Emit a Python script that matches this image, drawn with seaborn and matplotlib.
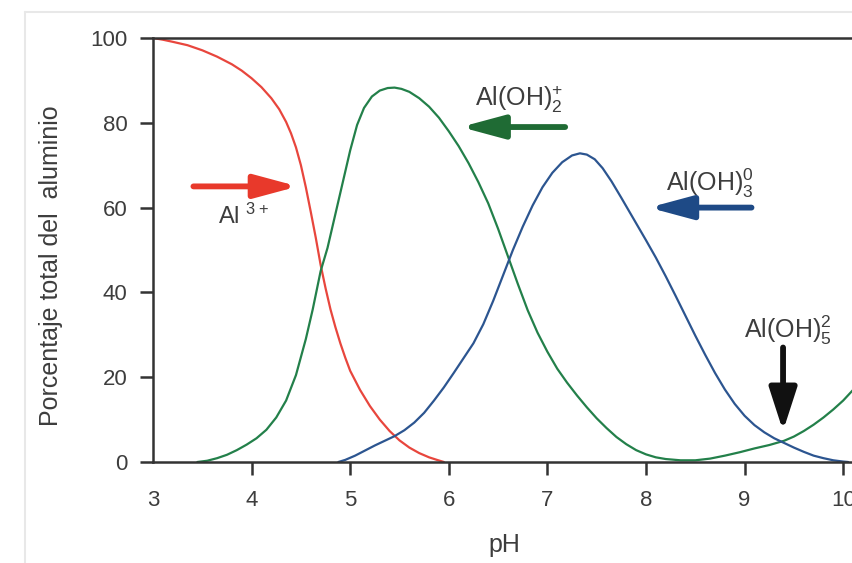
import matplotlib
matplotlib.use("Agg")
import matplotlib.pyplot as plt
import seaborn as sns
import pandas as pd
from matplotlib.lines import Line2D

# curves (pH, % of total aluminium)
ph_al3 = [3.0, 3.1, 3.2, 3.35, 3.5, 3.65, 3.8, 3.9, 4.0, 4.1, 4.2, 4.28, 4.35, 4.4, 4.45,
          4.5, 4.55, 4.6, 4.65, 4.7, 4.75, 4.8, 4.85, 4.9, 4.95, 5.0, 5.1, 5.2, 5.3, 5.4,
          5.5, 5.6, 5.7, 5.8, 5.88, 5.95]
pct_al3 = [100, 99.6, 99.1, 98.3, 97.1, 95.6, 93.8, 92.3, 90.5, 88.4, 85.8, 83.2, 80.2, 77.5, 74.2,
           70, 64.8, 59, 53, 46.5, 41, 36, 31.8, 28, 24.6, 21.5, 17, 13.2, 10, 7.3,
           5.1, 3.4, 2.1, 1.1, 0.5, 0]

ph_oh2 = [3.45, 3.55, 3.65, 3.75, 3.85, 3.95, 4.05, 4.15, 4.25, 4.35, 4.45, 4.55, 4.62, 4.7,
          4.77, 4.85, 4.93, 5.0, 5.07, 5.14, 5.22, 5.3, 5.38, 5.45, 5.52, 5.6, 5.7, 5.8,
          5.9, 6.0, 6.1, 6.2, 6.3, 6.4, 6.5, 6.6, 6.7, 6.8, 6.9, 7.0, 7.1, 7.2, 7.3, 7.4,
          7.5, 7.6, 7.7, 7.8, 7.9, 8.0, 8.1, 8.2, 8.35, 8.5, 8.65, 8.8, 8.95, 9.1, 9.25,
          9.4, 9.5, 9.6, 9.7, 9.8, 9.9, 10.0, 10.1]
pct_oh2 = [0, 0.3, 0.9, 1.7, 2.8, 4.1, 5.6, 7.6, 10.5, 14.5, 20.5, 29, 36, 45,
           50.5, 58.5, 66.5, 73.5, 79.5, 83.5, 86.2, 87.6, 88.2, 88.3, 88, 87.3, 85.8, 83.8,
           81.2, 78, 74.5, 70.5, 66, 61, 55, 48.5, 42, 35.8, 30.5, 26, 22, 18.7, 15.7, 12.9,
           10.3, 8, 5.9, 4.2, 2.8, 1.8, 1.1, 0.7, 0.4, 0.4, 0.8, 1.5, 2.3, 3.2, 4,
           5, 6, 7.3, 8.8, 10.5, 12.4, 14.5, 17]

ph_oh3 = [4.88, 4.95, 5.05, 5.15, 5.25, 5.35, 5.45, 5.55, 5.65, 5.75, 5.85, 5.95, 6.05, 6.15,
          6.25, 6.35, 6.45, 6.55, 6.65, 6.75, 6.85, 6.95, 7.05, 7.15, 7.25, 7.33, 7.4, 7.48,
          7.56, 7.65, 7.75, 7.87, 8.0, 8.1, 8.2, 8.3, 8.4, 8.5, 8.6, 8.7, 8.8, 8.9, 9.0,
          9.1, 9.2, 9.3, 9.4, 9.5, 9.6, 9.7, 9.8, 9.9, 10.0, 10.05]
pct_oh3 = [0, 0.5, 1.5, 2.7, 3.9, 5, 6.1, 7.5, 9.3, 11.6, 14.5, 17.6, 21, 24.5,
           28, 32.5, 38, 44, 50, 55.5, 60.5, 64.8, 68.2, 70.7, 72.3, 72.8, 72.5, 71.4,
           69.3, 66.2, 62.3, 57.5, 52.3, 48.2, 43.8, 39.2, 34.5, 29.8, 25.3, 21, 17.1, 13.7, 10.9,
           8.7, 7, 5.6, 4.5, 3.4, 2.4, 1.5, 0.9, 0.4, 0.1, 0]

x_ticks = [3, 4, 5, 6, 7, 8, 9, 10]
y_ticks = [0, 20, 40, 60, 80, 100]

RED, GREEN, BLUE = "#e8463d", "#23804a", "#2c5590"
TXT = "#3d3d3d"

sns.set_style("ticks")
plt.rcParams["font.family"] = ["Liberation Sans", "DejaVu Sans"]
plt.rcParams["mathtext.default"] = "regular"

fig = plt.figure(figsize=(8.52, 5.63), dpi=100)
ax = fig.add_axes([153 / 852, 1 - 462 / 563, 1 - 153 / 852, 424 / 563])

for ph, pct, col in [(ph_al3, pct_al3, RED), (ph_oh2, pct_oh2, GREEN), (ph_oh3, pct_oh3, BLUE)]:
    df = pd.DataFrame({"pH": ph, "pct": pct})
    sns.lineplot(data=df, x="pH", y="pct", color=col, lw=1.6, ax=ax, sort=False)

ax.set_xlim(3, 3 + 699 / 98.6)
ax.set_ylim(0, 100)
ax.set_xticks(x_ticks)
ax.set_yticks(y_ticks)
ax.set_xlabel("pH", fontsize=18, color=TXT)
ax.set_ylabel("Porcentaje total del  aluminio", fontsize=18, color=TXT)
ax.xaxis.set_label_coords(0.503, -0.168)
ax.yaxis.set_label_coords(-0.129, 0.462)
ax.tick_params(axis="both", direction="out", length=9.5, width=1.8, color="#333333",
               labelsize=16, labelcolor=TXT)
ax.tick_params(axis="x", pad=11)
ax.tick_params(axis="y", pad=9)
ax.xaxis.get_major_ticks()[0].tick1line.set_visible(False)
for side in ["left", "bottom", "top"]:
    ax.spines[side].set_color("#333333")
    ax.spines[side].set_linewidth(1.8)
ax.spines["right"].set_visible(False)


def arrow(tail, tip, col, hw=0.35):
    ax.annotate("", xy=tip, xytext=tail,
                arrowprops=dict(arrowstyle=f"-|>,head_length=1.3,head_width={hw}",
                                mutation_scale=20, lw=4.2, color=col,
                                shrinkA=0, shrinkB=0))


arrow((3.41, 65), (4.47, 65), "#e8392b")
arrow((7.18, 79), (6.12, 79), "#1f6b34")
arrow((9.07, 60), (8.03, 60), "#1e4a86")
arrow((9.39, 27), (9.39, 7.3), "#111111", hw=0.42)

ax.text(3.66, 58, r"Al ${}^{3+}$", fontsize=17, color=TXT, va="center", ha="left")
ax.text(6.27, 85.5, r"Al(OH)$^{+}_{2}$", fontsize=18, color=TXT, va="center", ha="left")
ax.text(8.2, 65.8, r"Al(OH)$^{0}_{3}$", fontsize=18, color=TXT, va="center", ha="left")
ax.text(9.44, 31, r"Al(OH)$^{2}_{5}$", fontsize=18, color=TXT, va="center", ha="center")

# faint frame of the original scan
fig.add_artist(Line2D([25 / 852, 1], [1 - 12 / 563] * 2, transform=fig.transFigure,
                      color="#e8e8e8", lw=1.5))
fig.add_artist(Line2D([25 / 852] * 2, [0, 1 - 12 / 563], transform=fig.transFigure,
                      color="#e8e8e8", lw=1.5))

fig.savefig("out.png", dpi=100)
